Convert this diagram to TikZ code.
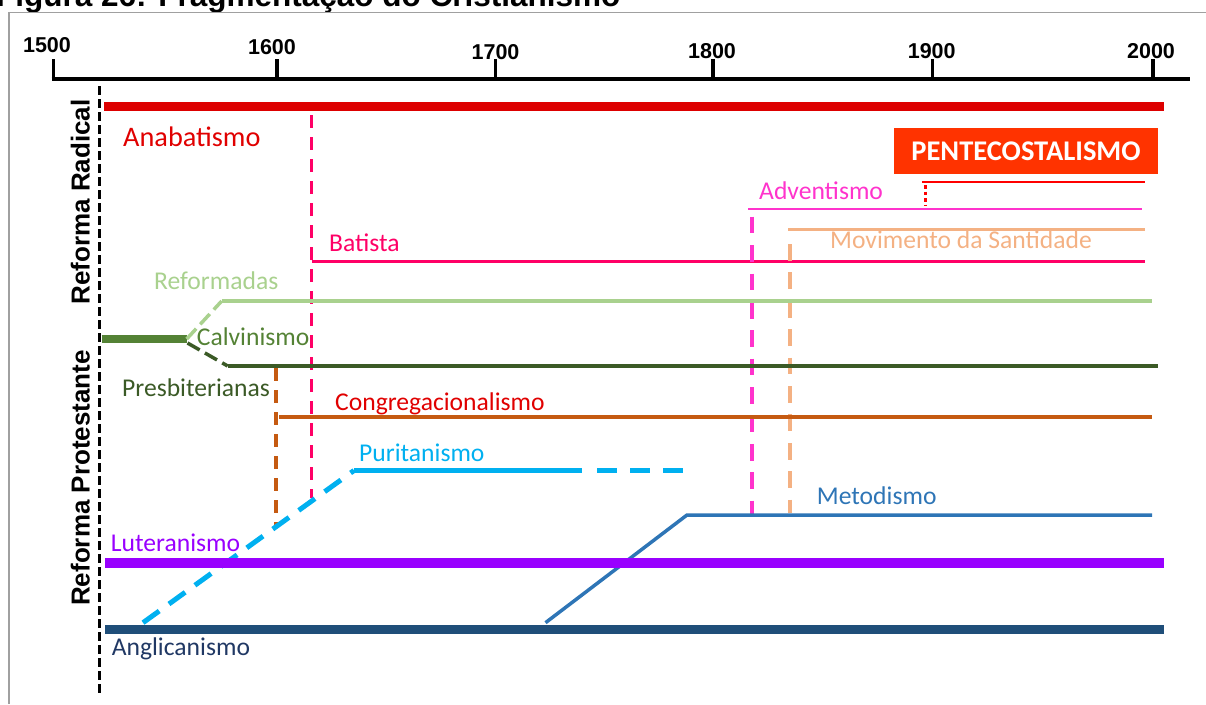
\documentclass[tikz,border=0pt]{standalone}
\usepackage{fontspec}
\setmainfont{Carlito}
\newfontfamily\arialfont{Liberation Sans}
\definecolor{anared}{HTML}{DD0000}
\definecolor{labelred}{HTML}{E00000}
\definecolor{pentbox}{HTML}{FF3300}
\definecolor{advpink}{HTML}{FF33CC}
\definecolor{santpeach}{HTML}{F4B183}
\definecolor{batpink}{HTML}{FF0066}
\definecolor{refgreen}{HTML}{A9D18E}
\definecolor{calvgreen}{HTML}{548235}
\definecolor{presgreen}{HTML}{3B5A26}
\definecolor{congorange}{HTML}{C55A11}
\definecolor{puriblue}{HTML}{00B0F0}
\definecolor{metblue}{HTML}{2E75B6}
\definecolor{lutviolet}{HTML}{9900FF}
\definecolor{anglnavy}{HTML}{1F4E79}
\definecolor{anglabel}{HTML}{203864}
\definecolor{framegray}{HTML}{A0A0A0}
\begin{document}
\begin{tikzpicture}[x=1pt,y=-1pt,
  lbl/.style={anchor=base west, inner sep=0pt, font=\fontsize{25.6}{30}\selectfont},
  yearlbl/.style={anchor=base, inner sep=0pt, font=\arialfont\bfseries\fontsize{21.5}{26}\selectfont},
  sidelbl/.style={rotate=90, anchor=base, inner sep=0pt, font=\arialfont\bfseries\fontsize{26}{31}\selectfont},
  tick/.style={line width=3.5pt},
  bar/.style={line width=9.5pt},
  branch/.style={line width=4pt},
  thinbranch/.style={line width=2.5pt},
  linkdash/.style={line width=3.5pt, dash pattern=on 13pt off 9pt},
  longdash/.style={line width=4pt, dash pattern=on 16.7pt off 11.7pt},
  splitdash/.style={line width=3.5pt, dash pattern=on 14pt off 6pt},
]
\useasboundingbox (0,0) rectangle (1206,704);
\clip (0,0) rectangle (1206,704);

% caption, partly outside the page
\node[anchor=base west, inner sep=0pt, font=\arialfont\bfseries\fontsize{31.5}{36}\selectfont]
  (caption) at (-4,6) {Figura 26: Fragmentação do Cristianismo};

% frame
\coordinate (frame-bl) at (9,704);
\coordinate (frame-tl) at (9,12.7);
\coordinate (frame-tr) at (1206,12.7);
\draw[framegray, line width=1.5pt] (frame-bl) -- (frame-tl) -- (frame-tr);

% time axis
\coordinate (axis-s) at (51.5,79);
\coordinate (axis-e) at (1189.5,79);
\draw[line width=4pt] (axis-s) -- (axis-e);
\foreach \yr/\tx/\lx/\ly in {1500/53.6/47/52.3, 1600/276.8/272/54.3, 1700/495.5/495.5/59.3,
                            1800/712.9/712/58.3, 1900/932.4/931.7/58.3, 2000/1152.8/1151/58}{
  \coordinate (tick-\yr) at (\tx,79);
  \coordinate (tick-\yr-top) at (\tx,58.5);
  \draw[tick] (tick-\yr) -- (tick-\yr-top);
  \node[yearlbl] (year-\yr) at (\lx,\ly) {\yr};
}

% separator between the two groups of churches
\coordinate (sep-top) at (99.3,86);
\coordinate (sep-bot) at (99.3,695);
\draw[line width=3pt, dash pattern=on 8.5pt off 4.5pt] (sep-top) -- (sep-bot);
\node[sidelbl] (radical) at (89.5,202) {Reforma Radical};
\node[sidelbl] (protestante) at (89.5,478) {Reforma Protestante};

% Anabatismo
\coordinate (ana-s) at (104,106);
\coordinate (ana-e) at (1163.6,106);
\draw[anared, line width=9pt] (ana-s) -- (ana-e);
\node[lbl, text=labelred, font=\fontsize{28.3}{33}\selectfont] (ana-lbl) at (123,146.7) {Anabatismo};

% Batista
\coordinate (bat-root) at (311.7,115);
\coordinate (bat-foot) at (311.7,498);
\coordinate (bat-s) at (311.7,261.7);
\coordinate (bat-e) at (1145,261.7);
\draw[batpink, linkdash] (bat-root) -- (bat-foot);
\draw[batpink, line width=3.5pt] (bat-s) -- (bat-e);
\node[lbl, text=batpink] (bat-lbl) at (329,251.7) {Batista};

% Pentecostalismo
\node[fill=pentbox, minimum width=263.4pt, minimum height=46pt, inner sep=0pt,
      text=white, font=\bfseries\fontsize{28.5}{33}\selectfont] (pent) at (1026,151.3) {PENTECOSTALISMO};
\coordinate (pent-s) at (922,182);
\coordinate (pent-e) at (1145,182);
\coordinate (pent-root) at (925,185);
\coordinate (pent-foot) at (925,206);
\draw[red, thinbranch] (pent-s) -- (pent-e);
\draw[red, line width=3pt, dash pattern=on 3.5pt off 3pt] (pent-root) -- (pent-foot);

% Adventismo
\coordinate (adv-s) at (748,209);
\coordinate (adv-e) at (1141.7,209);
\coordinate (adv-root) at (751.7,216.7);
\coordinate (adv-foot) at (751.7,514);
\draw[advpink, thinbranch] (adv-s) -- (adv-e);
\draw[advpink, longdash] (adv-root) -- (adv-foot);
\node[lbl, text=advpink] (adv-lbl) at (759,199) {Adventismo};

% Movimento da Santidade
\coordinate (sant-s) at (788,229.7);
\coordinate (sant-e) at (1145,229.7);
\coordinate (sant-root) at (790,244);
\coordinate (sant-foot) at (790,513);
\draw[santpeach, thinbranch] (sant-s) -- (sant-e);
\draw[santpeach, longdash] (sant-root) -- (sant-foot);
\node[lbl, text=santpeach] (sant-lbl) at (830,248.3) {Movimento da Santidade};

% Calvinismo and its two branches
\coordinate (calv-s) at (101.7,339);
\coordinate (calv-e) at (186.7,339);
\draw[calvgreen, line width=8pt] (calv-s) -- (calv-e);
\node[lbl, text=calvgreen] (calv-lbl) at (196.7,345) {Calvinismo};

\coordinate (ref-bend) at (221.7,301);
\coordinate (ref-e) at (1151.7,301);
\draw[refgreen, splitdash] (calv-e) -- (ref-bend);
\draw[refgreen, branch] (ref-bend) -- (ref-e);
\node[lbl, text=refgreen] (ref-lbl) at (154,289) {Reformadas};

\coordinate (pres-split) at (187.5,343);
\coordinate (pres-bend) at (227.7,366);
\coordinate (pres-e) at (1158,366);
\draw[presgreen, splitdash] (pres-split) -- (pres-bend);
\draw[presgreen, branch] (pres-bend) -- (pres-e);
\node[lbl, text=presgreen] (pres-lbl) at (122,396.7) {Presbiterianas};

% Congregacionalismo
\coordinate (cong-root) at (276,368);
\coordinate (cong-foot) at (276,525);
\coordinate (cong-s) at (279.3,416.5);
\coordinate (cong-e) at (1151.7,416.5);
\draw[congorange, linkdash] (cong-root) -- (cong-foot);
\draw[congorange, branch] (cong-s) -- (cong-e);
\node[lbl, text=labelred] (cong-lbl) at (335,410) {Congregacionalismo};

% Puritanismo
\coordinate (puri-root) at (143,622.7);
\coordinate (puri-bend) at (354,470.5);
\coordinate (puri-fade) at (581.7,470.5);
\coordinate (puri-dash) at (597,470.5);
\coordinate (puri-e) at (683.3,470.5);
\draw[puriblue, line width=5pt, dash pattern=on 20pt off 12pt] (puri-root) -- (puri-bend);
\draw[puriblue, line width=5pt] (puri-bend) -- (puri-fade);
\draw[puriblue, line width=5pt, dash pattern=on 19.7pt off 13.4pt] (puri-dash) -- (puri-e);
\node[lbl, text=puriblue] (puri-lbl) at (359,461) {Puritanismo};

% Metodismo
\coordinate (met-root) at (545.5,622.7);
\coordinate (met-bend) at (687,515);
\coordinate (met-e) at (1152,515);
\draw[metblue, line width=3.5pt] (met-root) -- (met-bend) -- (met-e);
\node[lbl, text=metblue] (met-lbl) at (816.7,504) {Metodismo};

% Luteranismo
\coordinate (lut-s) at (105,563);
\coordinate (lut-e) at (1164.3,563);
\draw[lutviolet, bar] (lut-s) -- (lut-e);
\node[lbl, text=lutviolet] (lut-lbl) at (110.7,551) {Luteranismo};

% Anglicanismo
\coordinate (angl-s) at (105,629);
\coordinate (angl-e) at (1164.3,629);
\draw[anglnavy, line width=9pt] (angl-s) -- (angl-e);
\node[lbl, text=anglabel] (angl-lbl) at (111.6,655) {Anglicanismo};

\end{tikzpicture}
\end{document}
